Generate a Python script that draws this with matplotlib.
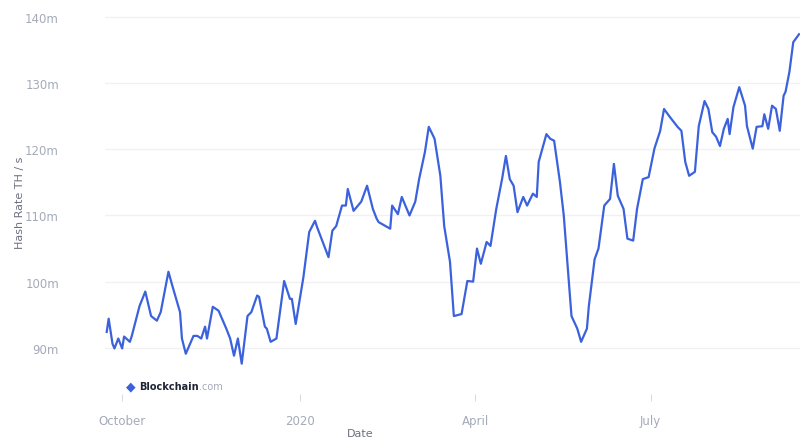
import matplotlib.pyplot as plt
import pandas as pd

# days after 2019-09-01 and hash rate (millions of TH/s)
start = "2019-09-01"
days = [22, 23, 25, 26, 28, 30, 31, 34, 35, 39, 42, 45, 48, 50, 54, 56, 60, 61, 63,
        67, 69, 71, 73, 74, 77, 80, 84, 86, 88, 90, 92, 95, 97, 100, 101, 104, 105,
        107, 110, 114, 117, 118, 120, 124, 127, 130, 131, 134, 137, 139, 141, 144,
        146, 147, 150, 154, 157, 160, 162, 163, 169, 170, 173, 175, 179, 182, 184,
        187, 189, 192, 195, 197, 200, 202, 206, 209, 212, 214, 216, 219, 221, 224,
        227, 229, 231, 233, 235, 238, 240, 243, 245, 246, 250, 252, 254, 257, 259,
        261, 263, 266, 268, 271, 272, 275, 277, 280, 283, 285, 287, 290, 292, 295,
        297, 300, 303, 306, 309, 311, 314, 318, 320, 322, 324, 327, 329, 332, 334,
        336, 338, 340, 342, 344, 345, 347, 350, 353, 354, 357, 359, 362, 363, 365,
        367, 369, 371, 373, 374, 376, 378, 381]
hash_rate = [92.4, 94.4, 90.6, 89.9, 91.4, 89.9, 91.7, 90.9, 91.8, 96.3, 98.5, 94.8,
             94.1, 95.4, 101.5, 99.4, 95.4, 91.4, 89.1, 91.8, 91.8, 91.4, 93.2, 91.4,
             96.2, 95.6, 92.9, 91.4, 88.8, 91.4, 87.6, 94.8, 95.4, 97.9, 97.7, 93.2,
             92.9, 90.9, 91.4, 100.1, 97.4, 97.4, 93.6, 100.7, 107.5, 109.2, 108.3,
             106.0, 103.7, 107.7, 108.4, 111.5, 111.5, 114.0, 110.7, 112.1, 114.5,
             111.0, 109.5, 109.0, 108.0, 111.5, 110.2, 112.8, 110.0, 112.1, 115.5,
             119.6, 123.4, 121.6, 116.0, 108.4, 103.0, 94.8, 95.1, 100.1, 100.0,
             105.0, 102.7, 106.0, 105.4, 111.0, 115.5, 119.0, 115.5, 114.5, 110.5,
             112.8, 111.5, 113.3, 112.8, 118.1, 122.3, 121.6, 121.3, 115.1, 110.0,
             102.4, 94.8, 92.9, 90.9, 92.9, 96.3, 103.4, 105.0, 111.5, 112.5, 117.8,
             113.0, 111.0, 106.5, 106.2, 111.0, 115.5, 115.8, 120.1, 122.8, 126.1,
             124.9, 123.4, 122.8, 118.1, 116.0, 116.6, 123.5, 127.3, 126.1, 122.6,
             121.9, 120.5, 123.1, 124.6, 122.3, 126.4, 129.4, 126.6, 123.5, 120.1,
             123.4, 123.5, 125.3, 123.1, 126.6, 126.1, 122.8, 128.1, 128.7, 131.7,
             136.2, 137.4]
y_ticks = [90, 100, 110, 120, 130, 140]
x_ticks = ["2019-10-01", "2020-01-01", "2020-04-01", "2020-07-01"]
x_tick_labels = ["October", "2020", "April", "July"]

dates = pd.to_datetime(start) + pd.to_timedelta(days, unit="D")

fig = plt.figure(figsize=(8, 4.39), dpi=100)
ax = fig.add_axes([0.131, 0.10, 0.869, 0.874])

ax.plot(dates, hash_rate, color="#3b62dc", linewidth=1.6)

ax.set_ylim(83, 141)
ax.set_xlim(pd.to_datetime(start) + pd.Timedelta(days=21),
            pd.to_datetime(start) + pd.Timedelta(days=381.5))

ax.set_yticks(y_ticks)
ax.set_yticklabels([f"{v}m" for v in y_ticks])
ax.set_xticks(pd.to_datetime(x_ticks))
ax.set_xticklabels(x_tick_labels)

ax.grid(axis="y", color="#f1f1f4", linewidth=1)
for s in ax.spines.values():
    s.set_visible(False)
ax.tick_params(axis="y", length=0, pad=33, labelsize=8.5, labelcolor="#a4aab8")
ax.tick_params(axis="x", length=5, color="#d8dbe2", pad=9, labelsize=8.5,
               labelcolor="#a4aab8", direction="out")

ax.set_ylabel("Hash Rate TH / s", fontsize=8, color="#6b7080")
ax.yaxis.set_label_coords(-0.115, 0.5)
ax.set_xlabel("Date", fontsize=8, color="#6b7080")
ax.xaxis.set_label_coords(0.367, -0.088)

# watermark
ax.text(0.03, 0.022, "\u25c6", transform=ax.transAxes, fontsize=9, color="#3b62dc",
        va="center", ha="left")
ax.text(0.05, 0.022, "Blockchain", transform=ax.transAxes, fontsize=7,
        fontweight="bold", color="#1d2433", va="center", ha="left")
ax.text(0.135, 0.022, ".com", transform=ax.transAxes, fontsize=7,
        color="#a4aab8", va="center", ha="left")

fig.savefig("out.png", dpi=100)
